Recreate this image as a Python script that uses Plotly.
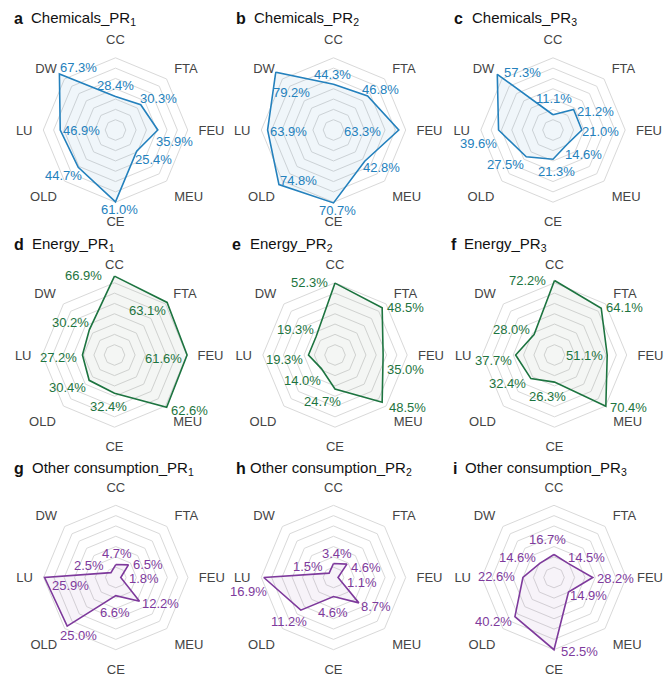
import math
import plotly.graph_objects as go

# Axes of every radar, clockwise from the top
categories = ["CC", "FTA", "FEU", "MEU", "CE", "OLD", "LU", "DW"]

# Shares (%) per panel, in the order of `categories`
chem_pr1 = [28.4, 30.3, 35.9, 25.4, 61.0, 44.7, 46.9, 67.3]
chem_pr2 = [44.3, 46.8, 63.3, 42.8, 70.7, 74.8, 63.9, 79.2]
chem_pr3 = [11.1, 21.2, 21.0, 14.6, 21.3, 27.5, 39.6, 57.3]
energy_pr1 = [66.9, 63.1, 61.6, 62.6, 32.4, 30.4, 27.2, 30.2]
energy_pr2 = [52.3, 48.5, 35.0, 48.5, 24.7, 14.0, 19.3, 19.3]
energy_pr3 = [72.2, 64.1, 51.1, 70.4, 26.3, 32.4, 37.7, 28.0]
other_pr1 = [4.7, 6.5, 1.8, 12.2, 6.6, 25.0, 25.9, 2.5]
other_pr2 = [3.4, 4.6, 1.1, 8.7, 4.6, 11.2, 16.9, 1.5]
other_pr3 = [16.7, 14.5, 28.2, 14.9, 52.5, 40.2, 22.6, 14.6]

panel_letters = ["a", "b", "c", "d", "e", "f", "g", "h", "i"]
panel_names = ["Chemicals_PR", "Chemicals_PR", "Chemicals_PR",
               "Energy_PR", "Energy_PR", "Energy_PR",
               "Other consumption_PR", "Other consumption_PR", "Other consumption_PR"]
panel_subs = ["1", "2", "3", "1", "2", "3", "1", "2", "3"]

series = [chem_pr1, chem_pr2, chem_pr3,
          energy_pr1, energy_pr2, energy_pr3,
          other_pr1, other_pr2, other_pr3]

BLUE = "#2481bd"
GREEN = "#1d7440"
PURPLE = "#7e3a9c"
line_colors = [BLUE] * 3 + [GREEN] * 3 + [PURPLE] * 3
fill_colors = (["rgba(36,129,189,0.07)"] * 3 + ["rgba(60,100,70,0.06)"] * 3
               + ["rgba(126,58,156,0.06)"] * 3)

# pixel offset (dx, dy; y downwards) of each value label's centre from its vertex
label_offsets = [
    [(0, -11), (18, -6), (17, 11), (17, 8), (4, 8), (-15, 8), (21, 0), (19, -6)],
    [(-1, -10), (13, -6), (-36, 1), (17, 6), (4, 8), (20, -4), (21, 1), (16, 20)],
    [(1, -16), (22, 2), (19, 1), (16, 10), (3, 12), (-21, 8), (-20, 13), (25, -2)],
    [(-31, -1), (-20, 8), (-24, 3), (23, 3), (-6, 13), (-22, 7), (-24, 2), (-19, -7)],
    [(-26, -1), (23, 0), (22, 14), (25, 5), (-13, 13), (-19, 12), (-24, 4), (-21, -7)],
    [(-27, 0), (23, -1), (-23, 0), (23, 1), (-7, 14), (-23, 5), (-22, 5), (-23, -5)],
    [(1, -11), (20, 0), (23, 1), (21, 2), (-1, 17), (11, 9), (26, 8), (-22, -7)],
    [(4, -10), (19, 3), (24, 5), (17, 4), (0, 16), (-12, 11), (-15, 14), (-21, -7)],
    [(-7, -15), (18, -6), (23, 1), (20, 4), (25, 2), (-21, 5), (-26, -1), (-22, -6)],
]

W, H = 666, 676
centers_x = [[115.5, 333.5, 553], [114.5, 335, 554.5], [115.8, 333.5, 554]]
centers_y = [130, 355, 577.5]
title_y = [19, 244, 468]
letter_x = [[12, 234, 452], [12, 230, 449], [12, 234, 451]]
name_x = [[29, 252, 470], [30, 248, 462], [30, 248, 463]]
R = 82.5
N_RINGS = 8
FONT = "Arial, Liberation Sans, sans-serif"

fig = go.Figure()
layout_polars = {}
annotations = []

for k, vals in enumerate(series):
    row, col = divmod(k, 3)
    cx, cy = centers_x[row][col], centers_y[row]
    pid = "polar" if k == 0 else f"polar{k + 1}"
    rmax = math.ceil(max(vals) / 10.0) * 10
    rings = [rmax * (i + 1) / N_RINGS for i in range(N_RINGS)]

    closed_r = vals + [vals[0]]
    closed_t = categories + [categories[0]]
    fig.add_trace(go.Scatterpolar(
        r=closed_r, theta=closed_t, mode="lines", fill="toself",
        fillcolor=fill_colors[k],
        line=dict(color=line_colors[k], width=1.6),
        subplot=pid, showlegend=False, hoverinfo="skip"))

    layout_polars[pid] = dict(
        domain=dict(x=[(cx - R) / W, (cx + R) / W],
                    y=[1 - (cy + R) / H, 1 - (cy - R) / H]),
        gridshape="linear",
        bgcolor="rgba(0,0,0,0)",
        radialaxis=dict(range=[0, rmax], tickvals=rings, showticklabels=False,
                        ticks="", showline=False, gridcolor="#d9d9d9",
                        gridwidth=1.2),
        angularaxis=dict(direction="clockwise", rotation=90,
                         showgrid=False, showline=False, ticks="",
                         tickfont=dict(family=FONT, size=13, color="#444444")),
    )

    # value labels, placed next to the vertex each one describes
    n = len(categories)
    for j, v in enumerate(vals):
        ang = 2 * math.pi * j / n
        rp = v / rmax * R
        px = cx + rp * math.sin(ang)
        py = cy - rp * math.cos(ang)
        dx, dy = label_offsets[k][j]
        annotations.append(dict(
            x=px / W, y=1 - py / H, xref="paper", yref="paper",
            xshift=dx, yshift=-dy, xanchor="center", yanchor="middle",
            showarrow=False, text=f"{v:.1f}%",
            font=dict(family=FONT, size=13, color=line_colors[k])))

    ty = 1 - title_y[row] / H
    annotations.append(dict(
        x=letter_x[row][col] / W, y=ty, xref="paper", yref="paper",
        xanchor="left", yanchor="middle", showarrow=False,
        text=f"<b>{panel_letters[k]}</b>",
        font=dict(family=FONT, size=16, color="#111111")))
    annotations.append(dict(
        x=name_x[row][col] / W, y=ty, xref="paper", yref="paper",
        xanchor="left", yanchor="middle", showarrow=False,
        text=f"{panel_names[k]}<sub>{panel_subs[k]}</sub>",
        font=dict(family=FONT, size=15, color="#111111")))

fig.update_layout(
    width=W, height=H,
    margin=dict(l=0, r=0, t=0, b=0),
    paper_bgcolor="white", plot_bgcolor="white",
    annotations=annotations,
    **layout_polars,
)

fig.write_html("out.html")
